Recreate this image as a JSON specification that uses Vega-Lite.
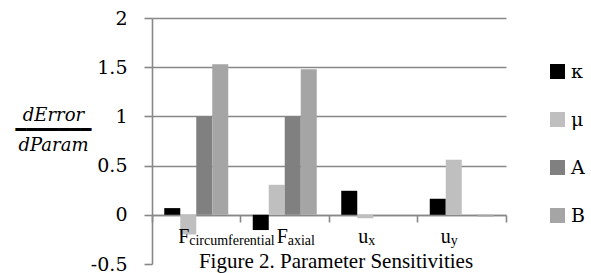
{
  "$schema": "https://vega.github.io/schema/vega-lite/v6.json",
  "width": 354,
  "height": 246,
  "autosize": {"type": "none"},
  "padding": {"left": 152, "top": 18, "right": 85, "bottom": 9},
  "background": "white",
  "title": {
    "text": "Figure 2. Parameter Sensitivities",
    "orient": "bottom",
    "frame": "group",
    "anchor": "middle",
    "baseline": "top",
    "offset": -15,
    "dy": -8,
    "dx": 7,
    "font": "Liberation Serif",
    "fontSize": 21,
    "fontWeight": "normal",
    "color": "black"
  },
  "config": {"view": {"stroke": null}},
  "datasets": {
    "bars": [
      {"category": "Fcircumferential", "series": "κ", "value": 0.068},
      {"category": "Fcircumferential", "series": "μ", "value": -0.2},
      {"category": "Fcircumferential", "series": "A", "value": 1.0},
      {"category": "Fcircumferential", "series": "B", "value": 1.53},
      {"category": "Faxial", "series": "κ", "value": -0.155},
      {"category": "Faxial", "series": "μ", "value": 0.305},
      {"category": "Faxial", "series": "A", "value": 1.0},
      {"category": "Faxial", "series": "B", "value": 1.48},
      {"category": "ux", "series": "κ", "value": 0.244},
      {"category": "ux", "series": "μ", "value": -0.035},
      {"category": "ux", "series": "A", "value": 0},
      {"category": "ux", "series": "B", "value": 0},
      {"category": "uy", "series": "κ", "value": 0.163},
      {"category": "uy", "series": "μ", "value": 0.56},
      {"category": "uy", "series": "A", "value": 0},
      {"category": "uy", "series": "B", "value": -0.017}
    ],
    "labels": [
      {"category": "Fcircumferential", "main": "F", "sub": "circumferential"},
      {"category": "Faxial", "main": "F", "sub": "axial"},
      {"category": "ux", "main": "u", "sub": "x"},
      {"category": "uy", "main": "u", "sub": "y"}
    ]
  },
  "layer": [
    {
      "data": {"name": "bars"},
      "mark": {"type": "bar"},
      "encoding": {
        "x": {
          "field": "category",
          "type": "nominal",
          "sort": ["Fcircumferential", "Faxial", "ux", "uy"],
          "scale": {"paddingInner": 0, "paddingOuter": 0},
          "axis": {
            "orient": "bottom",
            "offset": -49,
            "title": null,
            "labels": false,
            "domain": true,
            "domainColor": "#888888",
            "domainWidth": 1.6,
            "ticks": true,
            "tickColor": "#888888",
            "tickWidth": 1.6,
            "tickSize": 7,
            "bandPosition": 1,
            "tickExtra": true,
            "grid": false
          }
        },
        "xOffset": {
          "field": "series",
          "type": "nominal",
          "sort": ["κ", "μ", "A", "B"],
          "scale": {"paddingInner": 0, "paddingOuter": 0.766}
        },
        "y": {
          "field": "value",
          "type": "quantitative",
          "scale": {"domain": [-0.5, 2], "nice": false, "zero": false},
          "axis": {
            "values": [-0.5, 0, 0.5, 1, 1.5, 2],
            "labelExpr": "'' + datum.value",
            "labelFont": "DejaVu Serif",
            "labelFontSize": 19,
            "labelColor": "black",
            "labelPadding": 17,
            "tickSize": 8,
            "tickColor": "#888888",
            "tickWidth": 1.6,
            "domainColor": "#888888",
            "domainWidth": 1.6,
            "grid": true,
            "gridColor": "#888888",
            "gridWidth": 1.6,
            "gridOpacity": {"condition": {"test": "datum.value < 0", "value": 0}, "value": 1},
            "title": ["dError", "━━━━━━━", "dParam"],
            "titleFont": "DejaVu Serif",
            "titleFontStyle": "italic",
            "titleFontWeight": "normal",
            "titleFontSize": 18,
            "titleColor": "black",
            "titleAngle": 0,
            "titleAlign": "center",
            "titleBaseline": "alphabetic",
            "titleLineHeight": 15,
            "titleX": -99,
            "titleY": 102
          }
        },
        "color": {
          "field": "series",
          "type": "nominal",
          "sort": ["κ", "μ", "A", "B"],
          "scale": {"domain": ["κ", "μ", "A", "B"], "range": ["#000000", "#bfbfbf", "#808080", "#a5a5a5"]},
          "legend": {
            "orient": "none",
            "legendX": 396,
            "legendY": 44,
            "title": null,
            "padding": 0,
            "symbolType": "square",
            "symbolSize": 225,
            "symbolStrokeWidth": 0,
            "labelFont": "DejaVu Serif",
            "labelFontSize": 19,
            "labelColor": "black",
            "labelOffset": 4,
            "rowPadding": 28
          }
        }
      }
    },
    {
      "data": {"name": "labels"},
      "transform": [{"filter": "datum.category == 'Fcircumferential'"}],
      "layer": [
        {
          "mark": {"type": "text", "align": "right", "baseline": "alphabetic", "dx": -7, "dy": 28, "font": "Liberation Serif", "fontSize": 20, "color": "black"},
          "encoding": {
            "x": {"field": "category", "type": "nominal", "sort": ["Fcircumferential", "Faxial", "ux", "uy"]},
            "y": {"datum": 0},
            "text": {"field": "main"}
          }
        },
        {
          "mark": {"type": "text", "align": "left", "baseline": "alphabetic", "dx": -7, "dy": 30, "font": "Liberation Serif", "fontSize": 14, "color": "black"},
          "encoding": {
            "x": {"field": "category", "type": "nominal", "sort": ["Fcircumferential", "Faxial", "ux", "uy"]},
            "y": {"datum": 0},
            "text": {"field": "sub"}
          }
        }
      ]
    },
    {
      "data": {"name": "labels"},
      "transform": [{"filter": "datum.category == 'Faxial'"}],
      "layer": [
        {
          "mark": {"type": "text", "align": "right", "baseline": "alphabetic", "dx": 3, "dy": 28, "font": "Liberation Serif", "fontSize": 20, "color": "black"},
          "encoding": {
            "x": {"field": "category", "type": "nominal", "sort": ["Fcircumferential", "Faxial", "ux", "uy"]},
            "y": {"datum": 0},
            "text": {"field": "main"}
          }
        },
        {
          "mark": {"type": "text", "align": "left", "baseline": "alphabetic", "dx": 3, "dy": 30, "font": "Liberation Serif", "fontSize": 14, "color": "black"},
          "encoding": {
            "x": {"field": "category", "type": "nominal", "sort": ["Fcircumferential", "Faxial", "ux", "uy"]},
            "y": {"datum": 0},
            "text": {"field": "sub"}
          }
        }
      ]
    },
    {
      "data": {"name": "labels"},
      "transform": [{"filter": "datum.category == 'ux'"}],
      "layer": [
        {
          "mark": {"type": "text", "align": "right", "baseline": "alphabetic", "dx": -5, "dy": 28, "font": "Liberation Serif", "fontSize": 20, "color": "black"},
          "encoding": {
            "x": {"field": "category", "type": "nominal", "sort": ["Fcircumferential", "Faxial", "ux", "uy"]},
            "y": {"datum": 0},
            "text": {"field": "main"}
          }
        },
        {
          "mark": {"type": "text", "align": "left", "baseline": "alphabetic", "dx": -5, "dy": 30, "font": "Liberation Serif", "fontSize": 14, "color": "black"},
          "encoding": {
            "x": {"field": "category", "type": "nominal", "sort": ["Fcircumferential", "Faxial", "ux", "uy"]},
            "y": {"datum": 0},
            "text": {"field": "sub"}
          }
        }
      ]
    },
    {
      "data": {"name": "labels"},
      "transform": [{"filter": "datum.category == 'uy'"}],
      "layer": [
        {
          "mark": {"type": "text", "align": "right", "baseline": "alphabetic", "dx": -11, "dy": 28, "font": "Liberation Serif", "fontSize": 20, "color": "black"},
          "encoding": {
            "x": {"field": "category", "type": "nominal", "sort": ["Fcircumferential", "Faxial", "ux", "uy"]},
            "y": {"datum": 0},
            "text": {"field": "main"}
          }
        },
        {
          "mark": {"type": "text", "align": "left", "baseline": "alphabetic", "dx": -11, "dy": 30, "font": "Liberation Serif", "fontSize": 14, "color": "black"},
          "encoding": {
            "x": {"field": "category", "type": "nominal", "sort": ["Fcircumferential", "Faxial", "ux", "uy"]},
            "y": {"datum": 0},
            "text": {"field": "sub"}
          }
        }
      ]
    }
  ]
}
